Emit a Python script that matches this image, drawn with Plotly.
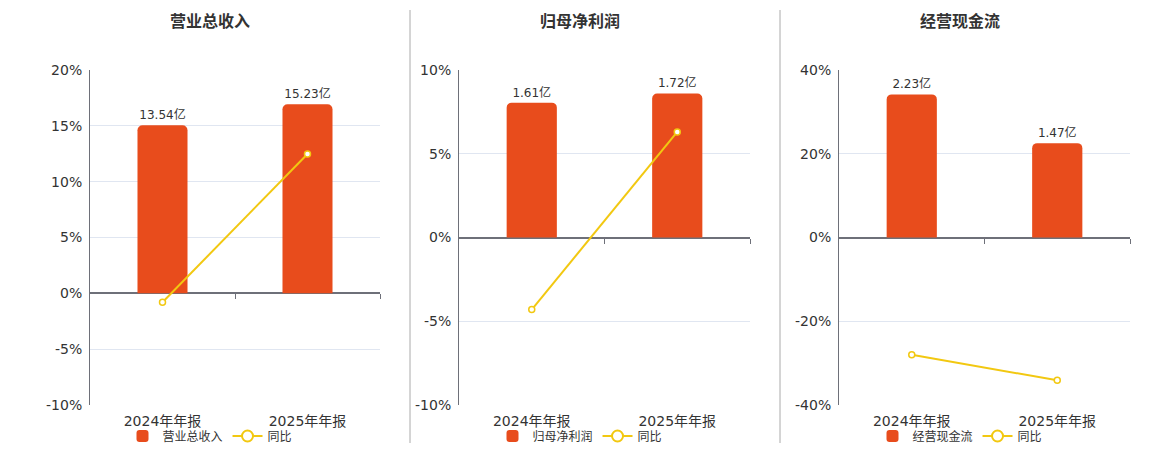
import plotly.graph_objects as go

# 三个小图：营业总收入 / 归母净利润 / 经营现金流（柱=金额，线=同比）
categories = ["2024年年报", "2025年年报"]

revenue = [13.54, 15.23]
revenue_yoy = [-0.8, 12.48]

profit = [1.61, 1.72]
profit_yoy = [-4.3, 6.3]

cash_flow = [2.23, 1.47]
cash_flow_yoy = [-28.0, -34.1]

titles = ["营业总收入", "归母净利润", "经营现金流"]
pct_ticks = [[-10, -5, 0, 5, 10, 15, 20], [-10, -5, 0, 5, 10], [-40, -20, 0, 20, 40]]

BAR_COLOR = "#E84C1C"
LINE_COLOR = "#F2C811"
TEXT = "#333333"
AXIS = "#6E7079"
GRID = "#E0E6F1"
FONT = "DejaVu Sans, Noto Sans CJK SC, sans-serif"

W, H = 1160, 450
OFF = 8  # page body margin, the figure sits 8px right/down


def px_x(v):
    return (v - OFF) / W


def px_y(v):
    return 1 - (v - OFF) / H


# panel geometry in pixels (page coordinates)
panels = [
    dict(x0=90, x1=380, bar_range=[-9, 18], center=210),
    dict(x0=459, x1=750, bar_range=[-2, 2], center=580),
    dict(x0=839, x1=1130, bar_range=[-2.61, 2.61], center=960),
]
series = [(revenue, revenue_yoy), (profit, profit_yoy), (cash_flow, cash_flow_yoy)]

fig = go.Figure()
layout = dict(
    width=W,
    height=H,
    margin=dict(l=0, r=0, t=0, b=0, autoexpand=False),
    paper_bgcolor="white",
    plot_bgcolor="white",
    font=dict(family=FONT, color=TEXT),
    bargap=0.655,
    barcornerradius=5,
    annotations=[],
    shapes=[],
    showlegend=True,
)

ydom = [px_y(405), px_y(70)]

for i, (p, (vals, yoy)) in enumerate(zip(panels, series)):
    n = i + 1
    xa = "x" if n == 1 else f"x{n}"
    yb = "y" if n == 1 else f"y{n}"      # bars (base, hidden)
    yp = f"y{n + 3}"                    # percent (overlay, drawn on top)
    leg = "legend" if n == 1 else f"legend{n}"
    ticks = pct_ticks[i]

    fig.add_trace(go.Bar(
        x=categories, y=vals, name=titles[i],
        xaxis=xa, yaxis=yb, legend=leg,
        marker=dict(color=BAR_COLOR, line=dict(width=0)),
        text=[f"{v:.2f}亿" for v in vals],
        textposition="outside", cliponaxis=False,
        textfont=dict(size=12, color=TEXT),
    ))
    fig.add_trace(go.Scatter(
        x=categories, y=yoy, name="同比", mode="lines+markers",
        xaxis=xa, yaxis=yp, legend=leg, showlegend=False,
        line=dict(color=LINE_COLOR, width=2),
        marker=dict(symbol="circle", size=6, color="white",
                    line=dict(color=LINE_COLOR, width=1.5)),
        cliponaxis=False,
    ))
    # legend-only entry with a bigger hollow marker
    fig.add_trace(go.Scatter(
        x=[None], y=[None], name="同比", mode="lines+markers",
        xaxis=xa, yaxis=yp, legend=leg,
        line=dict(color=LINE_COLOR, width=2),
        marker=dict(symbol="circle", size=11, color="white",
                    line=dict(color=LINE_COLOR, width=2)),
    ))

    dom = [px_x(p["x0"]), px_x(p["x1"])]
    layout["xaxis" if n == 1 else f"xaxis{n}"] = dict(
        domain=dom, anchor=yb, showgrid=False, showline=False,
        ticks="", tickfont=dict(size=14, color=TEXT), fixedrange=True,
        ticklabelstandoff=6,
    )
    layout["yaxis" if n == 1 else f"yaxis{n}"] = dict(
        domain=ydom, anchor=xa, range=p["bar_range"],
        visible=False, showgrid=False, zeroline=False,
    )
    layout[f"yaxis{n + 3}"] = dict(
        overlaying=yb, anchor=xa, side="left",
        range=[ticks[0], ticks[-1]],
        tickvals=ticks, ticktext=[f"{t}%" for t in ticks],
        showgrid=True, gridcolor=GRID,
        showline=True, linecolor=AXIS, linewidth=1,
        zeroline=True, zerolinecolor=AXIS, zerolinewidth=2,
        tickfont=dict(size=14, color=TEXT), ticks="", ticklabelstandoff=4,
    )
    # small boundary ticks hanging from the zero line
    zero_pos = ydom[0] + (0 - ticks[0]) / (ticks[-1] - ticks[0]) * (ydom[1] - ydom[0])
    layout[f"xaxis{n + 3}"] = dict(
        overlaying=xa, anchor="free", position=zero_pos, domain=dom,
        type="linear", range=[-0.5, len(categories) - 0.5],
        tickvals=[k + 0.5 for k in range(len(categories))],
        ticks="outside", ticklen=5, tickcolor=AXIS, tickwidth=1,
        showticklabels=False, showgrid=False, zeroline=False, showline=False,
    )
    layout[leg] = dict(
        orientation="h", x=px_x(p["center"]), y=px_y(436),
        xanchor="center", yanchor="middle",
        font=dict(size=12, color=TEXT), bgcolor="rgba(0,0,0,0)",
        itemwidth=30, tracegroupgap=0,
    )
    layout["annotations"].append(dict(
        text=f"<b>{titles[i]}</b>", x=px_x(p["center"]), y=px_y(22),
        xref="paper", yref="paper", showarrow=False,
        xanchor="center", yanchor="middle",
        font=dict(size=16, color=TEXT),
    ))

# 分隔竖线
for xpx in (410, 780):
    layout["shapes"].append(dict(
        type="line", xref="paper", yref="paper",
        x0=px_x(xpx), x1=px_x(xpx), y0=px_y(443), y1=px_y(10),
        line=dict(color="#AAAAAA", width=1),
    ))

fig.update_layout(**layout)

# dummy invisible trace so the tick-only x axes get drawn
for n in range(1, 4):
    fig.add_trace(go.Scatter(
        x=[None], y=[None], xaxis=f"x{n + 3}", yaxis=f"y{n + 3}",
        showlegend=False, hoverinfo="skip",
    ))

fig.write_html("out.html")
